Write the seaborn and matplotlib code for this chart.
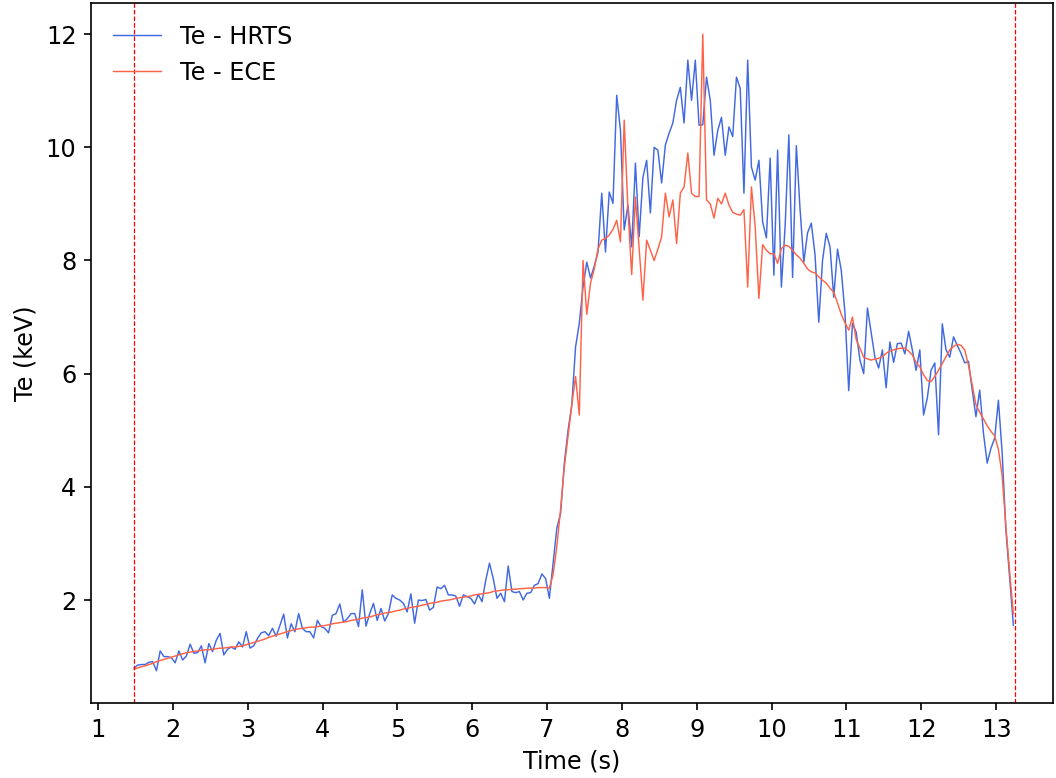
import numpy as np
import pandas as pd
import matplotlib
matplotlib.use("Agg")
import matplotlib.pyplot as plt
import seaborn as sns

# Sampling grid shared by both diagnostics (seconds)
t_start = 1.48
t_step = 0.05

# Electron temperature from HRTS (keV)
te_hrts = [
    0.80, 0.85, 0.86, 0.86, 0.90, 0.91, 0.75, 1.10, 1.00, 1.00,
    0.98, 0.89, 1.10, 0.94, 1.01, 1.22, 1.06, 1.07, 1.19, 0.89,
    1.23, 1.09, 1.29, 1.41, 1.03, 1.13, 1.17, 1.13, 1.26, 1.17,
    1.44, 1.15, 1.19, 1.32, 1.42, 1.44, 1.37, 1.50, 1.36, 1.55,
    1.75, 1.33, 1.58, 1.44, 1.76, 1.50, 1.44, 1.44, 1.33, 1.64,
    1.53, 1.50, 1.42, 1.73, 1.76, 1.93, 1.61, 1.67, 1.76, 1.76,
    1.53, 2.18, 1.54, 1.76, 1.94, 1.64, 1.85, 1.63, 1.76, 2.09,
    2.03, 2.00, 1.94, 1.79, 2.11, 1.59, 2.00, 1.99, 2.01, 1.82,
    1.87, 2.23, 2.20, 2.26, 2.09, 2.09, 2.07, 1.89, 2.09, 2.06,
    2.03, 1.93, 2.10, 1.97, 2.35, 2.65, 2.38, 2.03, 2.12, 1.97,
    2.60, 2.15, 2.13, 2.15, 2.00, 2.12, 2.13, 2.26, 2.29, 2.46,
    2.38, 2.03, 2.65, 3.27, 3.53, 4.42, 5.00, 5.45, 6.47, 6.89,
    7.53, 7.97, 7.69, 7.90, 8.15, 9.19, 8.15, 9.21, 9.01, 10.92,
    10.30, 8.54, 8.98, 8.24, 9.72, 8.42, 9.47, 9.77, 8.84, 10.00,
    9.95, 9.37, 10.04, 10.25, 10.43, 10.83, 11.06, 10.43, 11.54, 10.83,
    11.54, 10.39, 10.40, 11.24, 10.83, 9.86, 10.30, 10.53, 9.86, 10.36,
    10.19, 11.24, 11.04, 9.19, 11.54, 9.65, 9.42, 9.77, 8.68, 8.40,
    9.81, 7.74, 9.95, 7.53, 8.60, 10.22, 7.70, 10.03, 8.90, 7.97,
    8.49, 8.66, 8.10, 6.91, 8.00, 8.48, 8.24, 7.35, 8.20, 7.83,
    7.07, 5.70, 6.89, 6.73, 6.24, 6.00, 7.16, 6.72, 6.29, 6.10,
    6.42, 5.75, 6.56, 6.20, 6.53, 6.54, 6.35, 6.75, 6.42, 6.06,
    6.42, 5.27, 5.57, 6.06, 6.19, 4.92, 6.88, 6.42, 6.29, 6.65,
    6.50, 6.36, 6.19, 6.22, 5.71, 5.24, 5.71, 4.95, 4.42, 4.68,
    4.86, 5.53, 4.60, 3.24, 2.40, 1.55,
]

# Electron temperature from ECE (keV)
te_ece = [
    0.78, 0.80, 0.82, 0.84, 0.86, 0.88, 0.91, 0.93, 0.95, 0.97,
    0.99, 1.01, 1.03, 1.05, 1.07, 1.08, 1.09, 1.10, 1.11, 1.12,
    1.12, 1.13, 1.14, 1.15, 1.15, 1.16, 1.17, 1.17, 1.18, 1.19,
    1.21, 1.23, 1.25, 1.27, 1.29, 1.31, 1.34, 1.36, 1.38, 1.40,
    1.42, 1.44, 1.46, 1.48, 1.49, 1.50, 1.51, 1.52, 1.52, 1.53,
    1.54, 1.55, 1.56, 1.58, 1.59, 1.60, 1.61, 1.62, 1.64, 1.65,
    1.66, 1.68, 1.69, 1.70, 1.72, 1.74, 1.75, 1.77, 1.78, 1.79,
    1.81, 1.82, 1.84, 1.85, 1.87, 1.88, 1.89, 1.91, 1.92, 1.94,
    1.95, 1.96, 1.98, 1.99, 2.00, 2.01, 2.03, 2.04, 2.05, 2.06,
    2.07, 2.09, 2.10, 2.11, 2.12, 2.13, 2.15, 2.16, 2.17, 2.18,
    2.18, 2.19, 2.19, 2.20, 2.20, 2.21, 2.21, 2.21, 2.22, 2.22,
    2.22, 2.21, 2.45, 2.95, 3.60, 4.35, 4.90, 5.45, 5.95, 5.27,
    8.00, 7.05, 7.60, 7.85, 8.20, 8.36, 8.39, 8.45, 8.55, 8.71,
    8.33, 10.48, 8.90, 7.75, 9.12, 8.20, 7.30, 8.36, 8.18, 8.00,
    8.20, 8.42, 9.19, 8.77, 9.07, 8.30, 9.19, 9.30, 9.90, 9.19,
    9.13, 9.13, 12.00, 9.07, 9.00, 8.75, 9.10, 9.00, 9.19, 8.98,
    8.85, 8.82, 8.80, 8.90, 7.53, 9.30, 8.60, 7.33, 8.28, 8.18,
    8.12, 8.12, 7.95, 8.21, 8.27, 8.25, 8.18, 8.10, 8.04, 7.95,
    7.85, 7.80, 7.78, 7.71, 7.65, 7.60, 7.51, 7.44, 7.25, 7.05,
    6.90, 6.77, 7.00, 6.60, 6.45, 6.29, 6.26, 6.24, 6.26, 6.27,
    6.30, 6.36, 6.40, 6.42, 6.44, 6.45, 6.45, 6.40, 6.33, 6.20,
    6.12, 5.98, 5.88, 5.86, 5.95, 6.06, 6.18, 6.30, 6.42, 6.48,
    6.52, 6.50, 6.42, 6.15, 5.80, 5.45, 5.32, 5.20, 5.08, 4.98,
    4.90, 4.66, 4.20, 3.30, 2.50, 1.75,
]

# Analysis window boundaries (s)
window = [1.48, 13.25]

x_ticks = [1, 2, 3, 4, 5, 6, 7, 8, 9, 10, 11, 12, 13]
y_ticks = [2, 4, 6, 8, 10, 12]

time_hrts = t_start + t_step * np.arange(len(te_hrts))
time_ece = t_start + t_step * np.arange(len(te_ece))
df_hrts = pd.DataFrame({"Time": time_hrts, "Te": te_hrts})
df_ece = pd.DataFrame({"Time": time_ece, "Te": te_ece})

sns.set_style("ticks")
plt.rcParams["font.family"] = ["DejaVu Sans"]
plt.rcParams["font.size"] = 11.5
plt.rcParams["text.color"] = "black"
plt.rcParams["axes.labelcolor"] = "black"
plt.rcParams["xtick.color"] = "black"
plt.rcParams["ytick.color"] = "black"
plt.rcParams["axes.edgecolor"] = "black"

fig, ax = plt.subplots(figsize=(7.04, 5.1867), dpi=150)
fig.subplots_adjust(left=0.0862, right=0.9972, bottom=0.0964, top=0.9961)

sns.lineplot(data=df_hrts, x="Time", y="Te", ax=ax, color="royalblue",
             linewidth=0.7, label="Te - HRTS", sort=False, estimator=None)
sns.lineplot(data=df_ece, x="Time", y="Te", ax=ax, color="tomato",
             linewidth=0.7, label="Te - ECE", sort=False, estimator=None)

for xv in window:
    ax.axvline(xv, color="red", linestyle="--", linewidth=0.6)

ax.set_xlim(0.906, 13.76)
ax.set_ylim(0.18, 12.55)
ax.set_xticks(x_ticks)
ax.set_yticks(y_ticks)
ax.set_xlabel("Time (s)", fontsize=11.5)
ax.set_ylabel("Te (keV)", fontsize=11.5)
for side in ["top", "right", "left", "bottom"]:
    ax.spines[side].set_visible(True)
    ax.spines[side].set_linewidth(0.8)
ax.tick_params(direction="out", length=3.5, width=0.8, labelsize=11.5)

ax.legend(loc="upper left", frameon=False, fontsize=11.5)

fig.savefig("out.png", dpi=150)
